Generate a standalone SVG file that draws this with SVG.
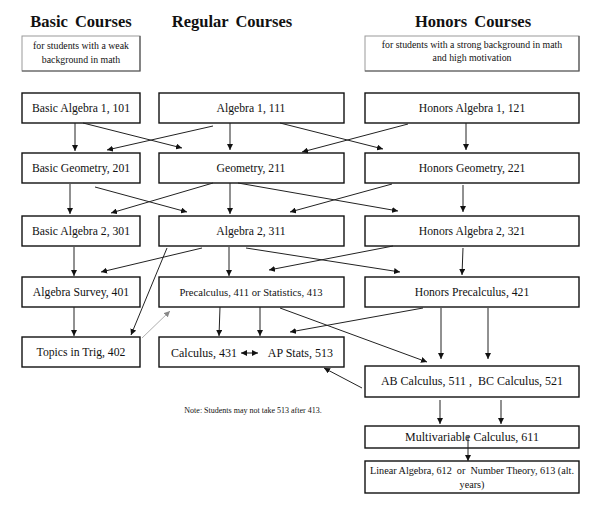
<svg xmlns="http://www.w3.org/2000/svg" width="600" height="509" viewBox="0 0 600 509">
<style>
text{font-family:"Liberation Serif","Times New Roman",serif;fill:#111;text-anchor:middle}
.h{font-size:16.5px;font-weight:bold;word-spacing:3px}
.s{font-size:9.8px}
.n{font-size:11.7px}
.b{fill:#fff;stroke:#111;stroke-width:1.4}
.hb{fill:#fff;stroke:#999;stroke-width:1}
.sh{fill:none;stroke:#555;stroke-width:1.2}
.c{stroke:#222;stroke-width:1;fill:none;marker-end:url(#a)}
.g{stroke:#999;stroke-width:0.8;fill:none;marker-end:url(#ag)}
</style>
<defs>
<marker id="a" markerUnits="userSpaceOnUse" markerWidth="7" markerHeight="6" refX="6" refY="3" orient="auto"><path d="M0,0 L6,3 L0,6 z" fill="#111"/></marker>
<marker id="ag" markerUnits="userSpaceOnUse" markerWidth="7" markerHeight="6" refX="6" refY="3" orient="auto"><path d="M0,0 L6,3 L0,6 z" fill="#888"/></marker>
<marker id="as" markerUnits="userSpaceOnUse" markerWidth="7" markerHeight="6" refX="6" refY="3" orient="auto-start-reverse"><path d="M0,0 L6,3 L0,6 z" fill="#111"/></marker>
</defs>
<rect width="600" height="509" fill="#fff"/>

<g id="headers">
<text class="h" x="81" y="27">Basic Courses</text>
<text class="h" x="232" y="27">Regular Courses</text>
<text class="h" x="473" y="27">Honors Courses</text>
</g>
<g id="basic-note">
<rect class="hb" x="22" y="36" width="118" height="35"/>
<path class="sh" d="M140,36 V71 H22"/>
<text class="s" x="81" y="49">for students with a weak</text>
<text class="s" x="81" y="63">background in math</text>
</g>
<g id="honors-note">
<rect class="hb" x="365" y="36" width="214" height="35"/>
<path class="sh" d="M579,36 V71 H365"/>
<text class="s" x="472" y="48">for students with a strong background in math</text>
<text class="s" x="472" y="61">and high motivation</text>
</g>

<g id="n101"><rect class="b" x="22" y="93" width="118" height="30"/><text class="n" x="81" y="112">Basic Algebra 1, 101</text></g>
<g id="n111"><rect class="b" x="159" y="93" width="185" height="30"/><text class="n" x="251" y="112">Algebra 1, 111</text></g>
<g id="n121"><rect class="b" x="365" y="93" width="214" height="30"/><text class="n" x="472" y="112">Honors Algebra 1, 121</text></g>

<g id="n201"><rect class="b" x="22" y="153" width="118" height="30"/><text class="n" x="81" y="172">Basic Geometry, 201</text></g>
<g id="n211"><rect class="b" x="159" y="153" width="185" height="30"/><text class="n" x="251" y="172">Geometry, 211</text></g>
<g id="n221"><rect class="b" x="365" y="153" width="214" height="30"/><text class="n" x="472" y="172">Honors Geometry, 221</text></g>

<g id="n301"><rect class="b" x="22" y="216" width="118" height="30"/><text class="n" x="81" y="235">Basic Algebra 2, 301</text></g>
<g id="n311"><rect class="b" x="159" y="216" width="185" height="30"/><text class="n" x="251" y="235">Algebra 2, 311</text></g>
<g id="n321"><rect class="b" x="365" y="216" width="214" height="30"/><text class="n" x="472" y="235">Honors Algebra 2, 321</text></g>

<g id="n401"><rect class="b" x="22" y="277" width="118" height="30"/><text class="n" x="81" y="296">Algebra Survey, 401</text></g>
<g id="n411"><rect class="b" x="159" y="277" width="185" height="30"/><text x="251" y="296" style="font-size:10.6px">Precalculus, 411 or Statistics, 413</text></g>
<g id="n421"><rect class="b" x="365" y="277" width="214" height="30"/><text class="n" x="472" y="296">Honors Precalculus, 421</text></g>

<g id="n402"><rect class="b" x="22" y="337" width="118" height="30"/><text class="n" x="81" y="356">Topics in Trig, 402</text></g>
<g id="n431"><rect class="b" x="159" y="337" width="185" height="30"/>
<text x="171" y="357" style="font-size:12px;text-anchor:start">Calculus, 431</text>
<text x="333" y="357" style="font-size:12px;text-anchor:end">AP Stats, 513</text>
<line x1="241" y1="353" x2="258" y2="353" stroke="#111" stroke-width="1" marker-start="url(#as)" marker-end="url(#as)"/>
</g>

<g id="n511"><rect class="b" x="365" y="366" width="214" height="31"/><text x="472" y="385" style="font-size:12px;white-space:pre">AB Calculus, 511 ,  BC Calculus, 521</text></g>
<g id="n611"><rect class="b" x="365" y="426" width="214" height="22"/><text x="472" y="441" style="font-size:12px">Multivariable Calculus, 611</text></g>
<g id="n612"><rect class="b" x="365" y="461" width="214" height="32"/>
<text x="472" y="474" style="font-size:10.2px;white-space:pre">Linear Algebra, 612  or  Number Theory, 613 (alt.</text>
<text x="472" y="488" style="font-size:10.2px">years)</text>
</g>

<g id="note"><text x="253" y="413" style="font-size:8px">Note: Students may not take 513 after 413.</text></g>

<g id="connectors">
<line class="c" x1="75" y1="123" x2="75" y2="151"/>
<line class="c" x1="83" y1="123" x2="182" y2="148"/>
<line class="c" x1="213" y1="126" x2="107" y2="150"/>
<line class="c" x1="230" y1="123" x2="230" y2="150"/>
<line class="c" x1="280" y1="123" x2="383" y2="149"/>
<line class="c" x1="408" y1="124" x2="302" y2="152"/>
<line class="c" x1="466" y1="123" x2="466" y2="150"/>
<line class="c" x1="70" y1="184" x2="70" y2="214"/>
<line class="c" x1="95" y1="187" x2="187" y2="212"/>
<line class="c" x1="213" y1="183" x2="111" y2="213"/>
<line class="c" x1="230" y1="183" x2="230" y2="214"/>
<line class="c" x1="238" y1="183" x2="398" y2="211"/>
<line class="c" x1="392" y1="184" x2="290" y2="212"/>
<line class="c" x1="463" y1="185" x2="463" y2="212"/>
<line class="c" x1="74" y1="247" x2="74" y2="276"/>
<line class="c" x1="202" y1="248" x2="101" y2="272"/>
<line class="c" x1="229" y1="247" x2="229" y2="276"/>
<line class="c" x1="246" y1="248" x2="400" y2="272"/>
<line class="c" x1="393" y1="246" x2="269" y2="270"/>
<line class="c" x1="463" y1="248" x2="462" y2="275"/>
<line class="c" x1="167" y1="248" x2="131" y2="335"/>
<line class="g" x1="142" y1="338" x2="170" y2="311"/>
<line class="c" x1="74" y1="307" x2="74" y2="336"/>
<line class="c" x1="220" y1="307" x2="219" y2="336"/>
<line class="c" x1="260" y1="307" x2="260" y2="336"/>
<line class="c" x1="423" y1="308" x2="290" y2="332"/>
<line class="c" x1="280" y1="308" x2="427" y2="362"/>
<line class="c" x1="441" y1="308" x2="441" y2="359"/>
<line class="c" x1="488" y1="308" x2="488" y2="359"/>
<line class="c" x1="362" y1="388" x2="324" y2="368"/>
<line class="c" x1="440" y1="400" x2="440" y2="424"/>
<line class="c" x1="501" y1="400" x2="501" y2="424"/>
<line class="c" x1="468" y1="436" x2="468" y2="461"/>
</g>
</svg>
